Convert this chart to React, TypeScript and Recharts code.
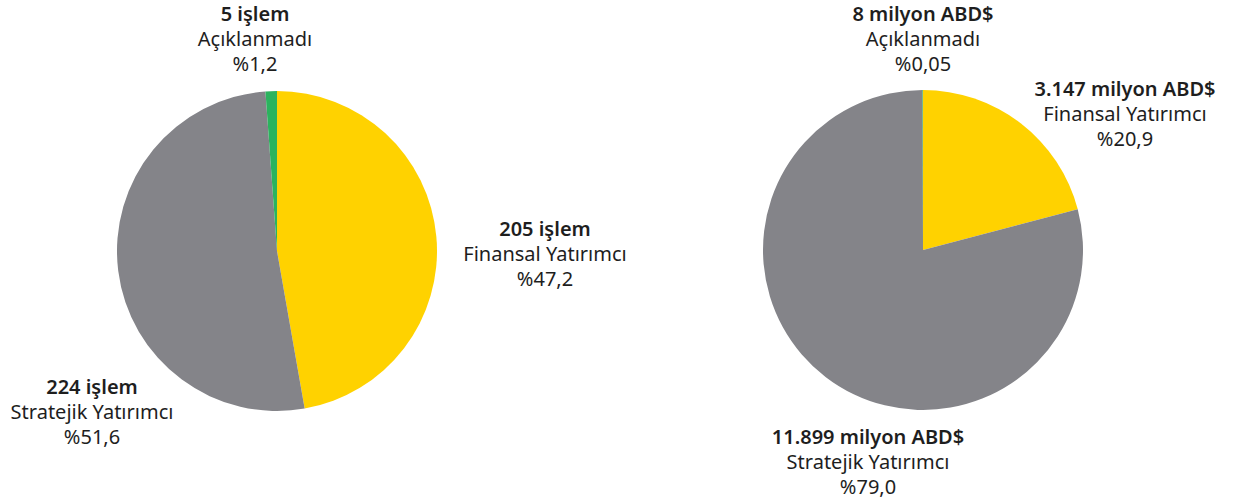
import { PieChart, Pie, Cell } from "recharts";

const categories = ["Finansal Yatırımcı", "Stratejik Yatırımcı", "Açıklanmadı"];
const dealCounts = [205, 224, 5];
const dealShares = ["%47,2", "%51,6", "%1,2"];
const valueMillions = [3147, 11899, 8];
const valueShares = ["%20,9", "%79,0", "%0,05"];

const colors = ["#FFD200", "#848489", "#2BB35E"];

// label anchor (center x, first-line baseline) per slice
const leftLabelPos = [
  { x: 545, y: 236 },
  { x: 92, y: 394 },
  { x: 255, y: 21 },
];
const rightLabelPos = [
  { x: 1125, y: 96 },
  { x: 868, y: 444 },
  { x: 923, y: 21 },
];

const fmt = (n: number) => String(n).replace(/\B(?=(\d{3})+(?!\d))/g, ".");

const dealData = categories.map((name, i) => ({
  name,
  value: dealCounts[i],
  title: `${dealCounts[i]} işlem`,
  share: dealShares[i],
}));
const valueData = categories.map((name, i) => ({
  name,
  value: valueMillions[i],
  title: `${fmt(valueMillions[i])} milyon ABD$`,
  share: valueShares[i],
}));

const FONT = "'Noto Sans', 'DejaVu Sans', sans-serif";

function makeLabel(pos: { x: number; y: number }[]) {
  return (props: any) => {
    const p = pos[props.index];
    const d = props.payload ?? props;
    return (
      <text
        x={p.x}
        y={p.y}
        textAnchor="middle"
        fontFamily={FONT}
        fontSize={20}
        fill="#1e1e1e"
      >
        <tspan x={p.x} fontWeight={600}>
          {d.title}
        </tspan>
        <tspan x={p.x} dy={25}>
          {d.name}
        </tspan>
        <tspan x={p.x} dy={25}>
          {d.share}
        </tspan>
      </text>
    );
  };
}

export default function App() {
  return (
    <div style={{ position: "absolute", left: 0, top: 0, background: "#fff" }}>
      <PieChart width={1240} height={504} margin={{ top: 0, right: 0, bottom: 0, left: 0 }}>
        <Pie
          data={dealData}
          dataKey="value"
          cx={277}
          cy={251}
          outerRadius={160}
          startAngle={90}
          endAngle={-270}
          stroke="none"
          labelLine={false}
          label={makeLabel(leftLabelPos)}
          isAnimationActive={false}
        >
          {dealData.map((_, i) => (
            <Cell key={i} fill={colors[i]} />
          ))}
        </Pie>
        <Pie
          data={valueData}
          dataKey="value"
          cx={923}
          cy={250}
          outerRadius={160}
          startAngle={90}
          endAngle={-270}
          stroke="none"
          labelLine={false}
          label={makeLabel(rightLabelPos)}
          isAnimationActive={false}
        >
          {valueData.map((_, i) => (
            <Cell key={i} fill={colors[i]} />
          ))}
        </Pie>
      </PieChart>
    </div>
  );
}
